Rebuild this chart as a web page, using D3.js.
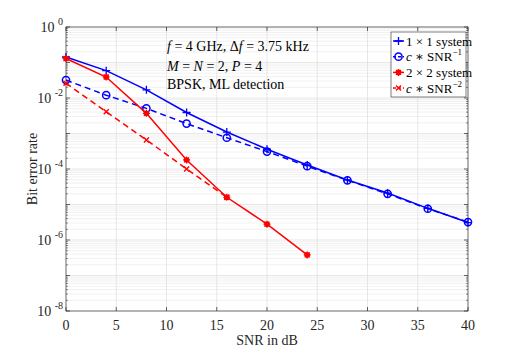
<!DOCTYPE html>
<html>
<head>
<meta charset="utf-8">
<script src="https://cdn.jsdelivr.net/npm/d3@7"></script>
<style>
  html, body { margin: 0; padding: 0; background: #fff; overflow: hidden; }
  svg { display: block; }
</style>
</head>
<body>
<script>
// SNR values (dB)
const snrFull = [0, 4, 8, 12, 16, 20, 24, 28, 32, 36, 40];
const snr2x2 = [0, 4, 8, 12, 16, 20, 24];
const snrRef2 = [0, 4, 8, 12, 16];

// BER values
const ber1x1 = [0.143, 0.059, 0.017, 3.9e-3, 1.1e-3, 3.6e-4, 1.3e-4, 4.9e-5, 2.1e-5, 7.8e-6, 3.1e-6];
const berRef1 = [0.032, 0.012, 5.1e-3, 1.9e-3, 7.6e-4, 3.1e-4, 1.2e-4, 4.8e-5, 2.0e-5, 7.6e-6, 3.2e-6];
const ber2x2 = [0.13, 0.039, 3.7e-3, 1.8e-4, 1.6e-5, 2.8e-6, 3.8e-7];
const berRef2 = [0.026, 4.1e-3, 6.6e-4, 1.0e-4, 1.6e-5];

const xTicks = [0, 5, 10, 15, 20, 25, 30, 35, 40];
const yExps = [0, -2, -4, -6, -8];

const width = 518, height = 354;
const margin = { top: 27, right: 50, bottom: 43, left: 66 };
const innerWidth = width - margin.left - margin.right;
const innerHeight = height - margin.top - margin.bottom;

const svg = d3.select('body').append('svg')
    .attr('width', width)
    .attr('height', height)
    .attr('font-family', '"Liberation Serif", "DejaVu Serif", serif');

const plotGroup = svg.append('g')
    .attr('transform', `translate(${margin.left},${margin.top})`);

const xScale = d3.scaleLinear().domain([0, 40]).range([0, innerWidth]);
const yScale = d3.scaleLog().domain([1e-8, 1]).range([innerHeight, 0]);

// Minor grid (log decades)
const minor = [];
for (let e = -8; e < 0; e++) {
    for (let m = 2; m <= 9; m++) minor.push(m * Math.pow(10, e));
}
plotGroup.append('g').selectAll('line')
    .data(minor).join('line')
    .attr('x1', 0).attr('x2', innerWidth)
    .attr('y1', d => yScale(d)).attr('y2', d => yScale(d))
    .attr('stroke', '#e8e8e8').attr('stroke-width', 0.6);

// Major grid
plotGroup.append('g').selectAll('line')
    .data(d3.range(-7, 0)).join('line')
    .attr('x1', 0).attr('x2', innerWidth)
    .attr('y1', d => yScale(Math.pow(10, d))).attr('y2', d => yScale(Math.pow(10, d)))
    .attr('stroke', '#dcdcdc').attr('stroke-width', 0.7);
plotGroup.append('g').selectAll('line')
    .data(xTicks.slice(1, -1)).join('line')
    .attr('x1', d => xScale(d)).attr('x2', d => xScale(d))
    .attr('y1', 0).attr('y2', innerHeight)
    .attr('stroke', '#dcdcdc').attr('stroke-width', 0.7);

// Axes box with inward ticks
const axisColor = '#262626';
const frame = plotGroup.append('g').attr('stroke', axisColor);
frame.append('rect')
    .attr('width', innerWidth).attr('height', innerHeight)
    .attr('fill', 'none').attr('stroke-width', 0.7);
xTicks.forEach(t => {
    frame.append('line').attr('x1', xScale(t)).attr('x2', xScale(t))
        .attr('y1', innerHeight).attr('y2', innerHeight - 4).attr('stroke-width', 0.7);
    frame.append('line').attr('x1', xScale(t)).attr('x2', xScale(t))
        .attr('y1', 0).attr('y2', 4).attr('stroke-width', 0.7);
});
d3.range(-8, 1).forEach(e => {
    const y = yScale(Math.pow(10, e));
    frame.append('line').attr('x1', 0).attr('x2', 4).attr('y1', y).attr('y2', y).attr('stroke-width', 0.7);
    frame.append('line').attr('x1', innerWidth).attr('x2', innerWidth - 4).attr('y1', y).attr('y2', y).attr('stroke-width', 0.7);
});
minor.forEach(v => {
    const y = yScale(v);
    frame.append('line').attr('x1', 0).attr('x2', 2).attr('y1', y).attr('y2', y).attr('stroke-width', 0.5);
    frame.append('line').attr('x1', innerWidth).attr('x2', innerWidth - 2).attr('y1', y).attr('y2', y).attr('stroke-width', 0.5);
});

// Tick labels
plotGroup.append('g').selectAll('text')
    .data(xTicks).join('text')
    .attr('x', d => xScale(d)).attr('y', innerHeight + 19)
    .attr('text-anchor', 'middle').attr('font-size', 14)
    .attr('fill', axisColor)
    .text(d => d);

const yLab = plotGroup.append('g').selectAll('text')
    .data(yExps).join('text')
    .attr('x', -3).attr('y', d => yScale(Math.pow(10, d)) + 5)
    .attr('text-anchor', 'end').attr('font-size', 14)
    .attr('fill', axisColor);
yLab.append('tspan').text('10 ');
yLab.append('tspan').attr('dy', -7).attr('font-size', 10).text(d => d === 0 ? '0' : d);

// Axis labels
svg.append('text')
    .attr('x', margin.left + innerWidth / 2).attr('y', height - 9)
    .attr('text-anchor', 'middle').attr('font-size', 14)
    .attr('fill', axisColor)
    .text('SNR in dB');
svg.append('text')
    .attr('transform', `translate(37,${margin.top + innerHeight / 2}) rotate(-90)`)
    .attr('text-anchor', 'middle').attr('font-size', 14)
    .attr('fill', axisColor)
    .text('Bit error rate');

// Series
const series = [
    { x: snrFull, y: ber1x1, color: '#0000ff', dash: null, marker: 'plus' },
    { x: snrFull, y: berRef1, color: '#0000ff', dash: '6,4', marker: 'circle' },
    { x: snr2x2, y: ber2x2, color: '#ff0000', dash: null, marker: 'star' },
    { x: snrRef2, y: berRef2, color: '#ff0000', dash: '6,4', marker: 'cross' }
];

const line = d3.line().x(d => xScale(d[0])).y(d => yScale(d[1]));

function drawMarker(g, type, cx, cy, color) {
    if (type === 'plus') {
        g.append('path').attr('d', `M${cx - 4},${cy}H${cx + 4}M${cx},${cy - 4}V${cy + 4}`)
            .attr('stroke', color).attr('stroke-width', 1.3);
    } else if (type === 'circle') {
        g.append('circle').attr('cx', cx).attr('cy', cy).attr('r', 3.6)
            .attr('fill', 'none').attr('stroke', color).attr('stroke-width', 1.5);
    } else if (type === 'star') {
        g.append('circle').attr('cx', cx).attr('cy', cy).attr('r', 2.8).attr('fill', color);
        g.append('path').attr('d', `M${cx - 3.5},${cy}H${cx + 3.5}M${cx},${cy - 3.5}V${cy + 3.5}M${cx - 2.5},${cy - 2.5}L${cx + 2.5},${cy + 2.5}M${cx - 2.5},${cy + 2.5}L${cx + 2.5},${cy - 2.5}`)
            .attr('stroke', color).attr('stroke-width', 1.2);
    } else if (type === 'cross') {
        g.append('path').attr('d', `M${cx - 2.5},${cy - 2.5}L${cx + 2.5},${cy + 2.5}M${cx - 2.5},${cy + 2.5}L${cx + 2.5},${cy - 2.5}`)
            .attr('stroke', color).attr('stroke-width', 1.4);
    }
}

series.forEach(s => {
    const pts = s.x.map((v, i) => [v, s.y[i]]);
    plotGroup.append('path').datum(pts)
        .attr('d', line).attr('fill', 'none')
        .attr('stroke', s.color).attr('stroke-width', 1.5)
        .attr('stroke-dasharray', s.dash);
    const mg = plotGroup.append('g');
    pts.forEach(p => drawMarker(mg, s.marker, xScale(p[0]), yScale(p[1]), s.color));
});

// Annotation
const ann = svg.append('g').attr('font-size', 14).attr('fill', '#000');
const a1 = ann.append('text').attr('x', 167).attr('y', 51);
a1.append('tspan').attr('font-style', 'italic').text('f');
a1.append('tspan').text(' = 4 GHz, Δ');
a1.append('tspan').attr('font-style', 'italic').text('f');
a1.append('tspan').text(' = 3.75 kHz');
const a2 = ann.append('text').attr('x', 167).attr('y', 71);
a2.append('tspan').attr('font-style', 'italic').text('M');
a2.append('tspan').text(' = ');
a2.append('tspan').attr('font-style', 'italic').text('N');
a2.append('tspan').text(' = 2, ');
a2.append('tspan').attr('font-style', 'italic').text('P');
a2.append('tspan').text(' = 4');
ann.append('text').attr('x', 167).attr('y', 89).text('BPSK, ML detection');

// Legend
const legend = svg.append('g').attr('transform', 'translate(391,32)');
legend.append('rect').attr('width', 75).attr('height', 65)
    .attr('fill', '#fff').attr('stroke', '#262626').attr('stroke-width', 0.6);
const legendItems = [
    { s: series[0], parts: [['1 × 1 system', null]] },
    { s: series[1], parts: [['c', 'italic'], [' ∗ SNR', null], ['−1', 'sup']] },
    { s: series[2], parts: [['2 × 2 system', null]] },
    { s: series[3], parts: [['c', 'italic'], [' ∗ SNR', null], ['−2', 'sup']] }
];
legendItems.forEach((item, i) => {
    const y = 9 + i * 15.7;
    legend.append('line').attr('x1', 2).attr('x2', 13).attr('y1', y).attr('y2', y)
        .attr('stroke', item.s.color).attr('stroke-width', 1.5)
        .attr('stroke-dasharray', item.s.dash ? '3,2' : null);
    drawMarker(legend, item.s.marker, 7.5, y, item.s.color);
    const t = legend.append('text').attr('x', 15).attr('y', y + 4.5).attr('font-size', 13).attr('fill', '#000');
    item.parts.forEach(p => {
        const ts = t.append('tspan').text(p[0]);
        if (p[1] === 'italic') ts.attr('font-style', 'italic');
        if (p[1] === 'sup') ts.attr('dy', -6).attr('font-size', 9);
    });
});
</script>
</body>
</html>
